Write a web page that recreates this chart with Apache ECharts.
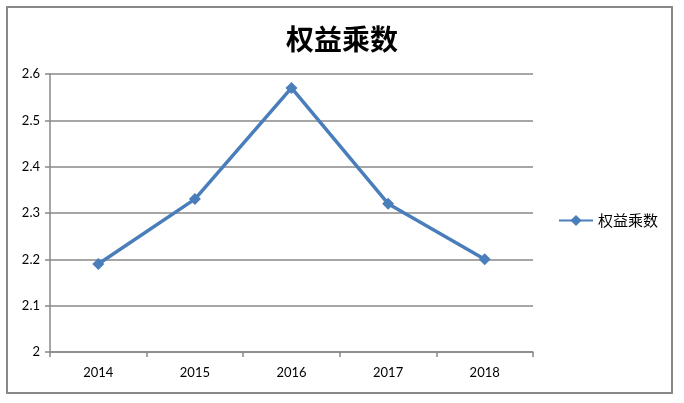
<!DOCTYPE html>
<html lang="zh">
<head>
    <meta charset="UTF-8">
    <title>权益乘数</title>
    <script src="https://cdn.jsdelivr.net/npm/echarts@6/dist/echarts.min.js"></script>
    <style>
        html, body { margin: 0; padding: 0; background: #fff; }
        #main { width: 684px; height: 403px; }
    </style>
</head>
<body>
    <div id="main"></div>
    <script>
        // 数据
        var years = ['2014', '2015', '2016', '2017', '2018'];
        var equityMultiplier = [2.19, 2.33, 2.57, 2.32, 2.20];
        var seriesName = '权益乘数';

        var myChart = echarts.init(document.getElementById('main'));
        var option = {
            backgroundColor: '#fff',
            animation: false,
            title: {
                text: '权益乘数',
                left: 'center',
                top: 20,
                textStyle: {
                    fontFamily: 'Noto Sans CJK SC',
                    fontWeight: 'bold',
                    fontSize: 28,
                    color: '#000'
                }
            },
            graphic: [{
                type: 'rect',
                shape: { x: 7, y: 7, width: 665, height: 386 },
                style: { fill: 'none', stroke: '#888', lineWidth: 2 }
            }],
            legend: {
                left: 553,
                top: 208,
                itemWidth: 34,
                itemHeight: 14,
                itemGap: 4,
                textStyle: {
                    fontFamily: 'Noto Sans CJK SC',
                    fontSize: 15,
                    color: '#000'
                },
                data: [seriesName]
            },
            grid: {
                left: 50,
                right: 151,
                top: 74,
                bottom: 51
            },
            xAxis: {
                type: 'category',
                boundaryGap: true,
                data: years,
                axisLine: { lineStyle: { color: '#888', width: 1.5 } },
                axisTick: { show: true, length: 5, lineStyle: { color: '#888', width: 1.5 } },
                axisLabel: {
                    margin: 14,
                    color: '#000',
                    fontSize: 13,
                    fontFamily: 'Lato'
                },
                splitLine: { show: false }
            },
            yAxis: {
                type: 'value',
                min: 2,
                max: 2.6,
                interval: 0.1,
                axisLine: { show: true, lineStyle: { color: '#888', width: 1.5 } },
                axisTick: { show: true, length: 5, lineStyle: { color: '#888', width: 1.5 } },
                axisLabel: {
                    margin: 10,
                    color: '#000',
                    fontSize: 13,
                    fontFamily: 'Lato',
                    formatter: function (v) { return Math.round(v * 10) / 10 + ''; }
                },
                splitLine: { lineStyle: { color: '#888', width: 1.5 } }
            },
            series: [{
                name: seriesName,
                type: 'line',
                data: equityMultiplier,
                symbol: 'diamond',
                symbolSize: 12,
                color: '#4a7ebb',
                lineStyle: { width: 3.5, color: '#4a7ebb' },
                itemStyle: { color: '#4a7ebb' }
            }]
        };
        myChart.setOption(option);
        window.addEventListener('resize', function () {
            myChart.resize();
        });
    </script>
</body>
</html>
